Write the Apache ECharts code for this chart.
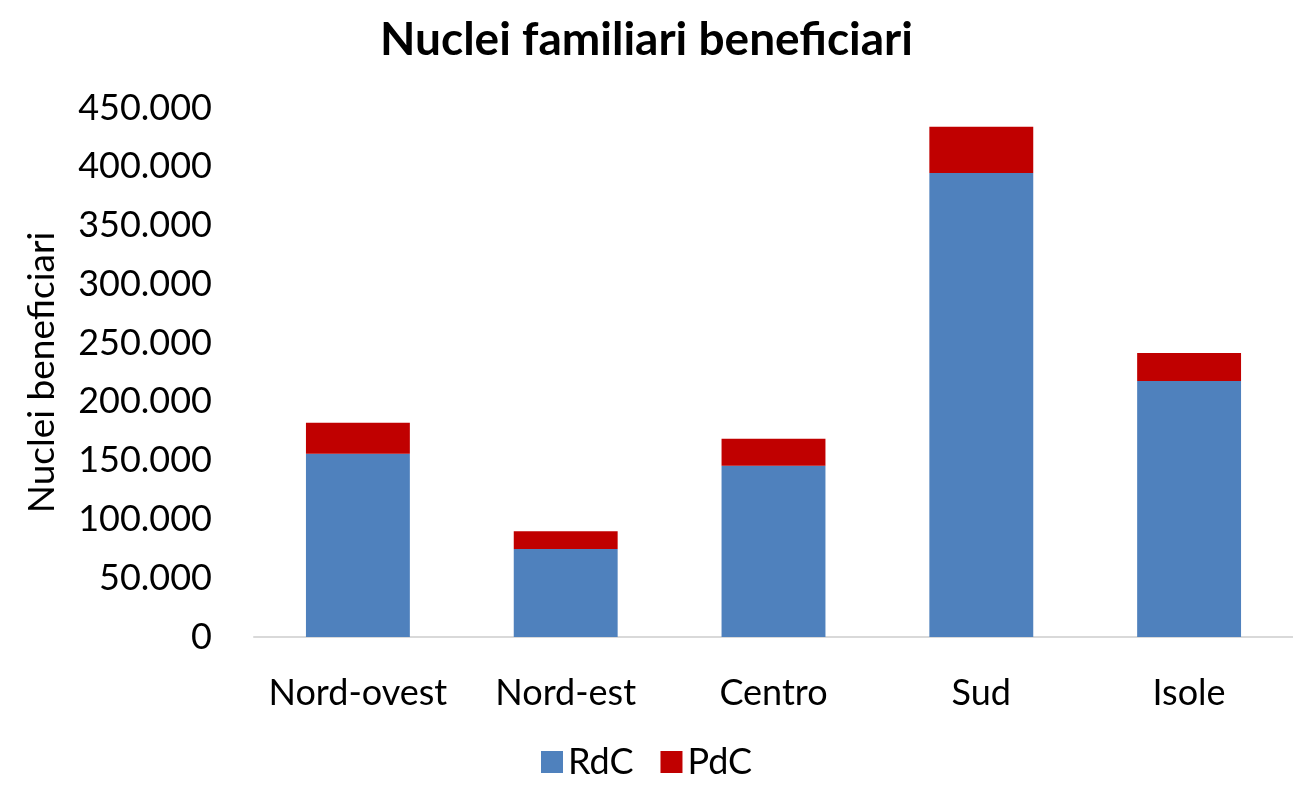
<!DOCTYPE html>
<html>
<head>
<meta charset="utf-8">
<script src="https://cdn.jsdelivr.net/npm/echarts@6/dist/echarts.min.js"></script>
<style>
  html, body { margin: 0; padding: 0; background: #fff; }
  #chart { width: 1293px; height: 785px; }
</style>
</head>
<body>
<div id="chart"></div>
<script>
// dati
var categories = ["Nord-ovest", "Nord-est", "Centro", "Sud", "Isole"];
var rdc = [155900, 74900, 145700, 394700, 217800];
var pdc = [26400, 15000, 23000, 39400, 23800];
var yTicks = [0, 50000, 100000, 150000, 200000, 250000, 300000, 350000, 400000, 450000];

var font = "Lato";

function fmt(v) {
  // separatore delle migliaia all'italiana
  return String(v).replace(/\B(?=(\d{3})+(?!\d))/g, ".");
}

var chart = echarts.init(document.getElementById("chart"));
chart.setOption({
  animation: false,
  textStyle: { fontFamily: font },
  title: {
    text: "Nuclei familiari beneficiari",
    left: "center",
    top: 12,
    textStyle: { fontSize: 46, fontWeight: "bold", color: "#000", fontFamily: font }
  },
  legend: {
    bottom: 0,
    left: "center",
    icon: "rect",
    itemWidth: 22,
    itemHeight: 22,
    itemGap: 27,
    textStyle: { fontSize: 36, color: "#000", fontFamily: font }
  },
  grid: {
    left: 254,
    right: -11,
    top: 108,
    bottom: 148
  },
  xAxis: {
    type: "category",
    data: categories,
    axisLine: { lineStyle: { color: "#d9d9d9", width: 2 } },
    axisTick: { show: false },
    axisLabel: { fontSize: 36, color: "#000", margin: 38, interval: 0, fontFamily: font }
  },
  yAxis: {
    type: "value",
    min: yTicks[0],
    max: yTicks[yTicks.length - 1],
    interval: 50000,
    name: "Nuclei beneficiari",
    nameLocation: "middle",
    nameGap: 193,
    nameTextStyle: { fontSize: 37, color: "#000", fontFamily: font },
    axisLine: { show: false },
    axisTick: { show: false },
    splitLine: { show: false },
    axisLabel: {
      fontSize: 36,
      color: "#000",
      margin: 42,
      fontFamily: font,
      formatter: function (v) { return fmt(v); }
    }
  },
  series: [
    {
      name: "RdC",
      type: "bar",
      stack: "tot",
      barWidth: "50%",
      data: rdc,
      itemStyle: { color: "#4f81bd" }
    },
    {
      name: "PdC",
      type: "bar",
      stack: "tot",
      barWidth: "50%",
      data: pdc,
      itemStyle: { color: "#c00000" }
    }
  ]
});
</script>
</body>
</html>
